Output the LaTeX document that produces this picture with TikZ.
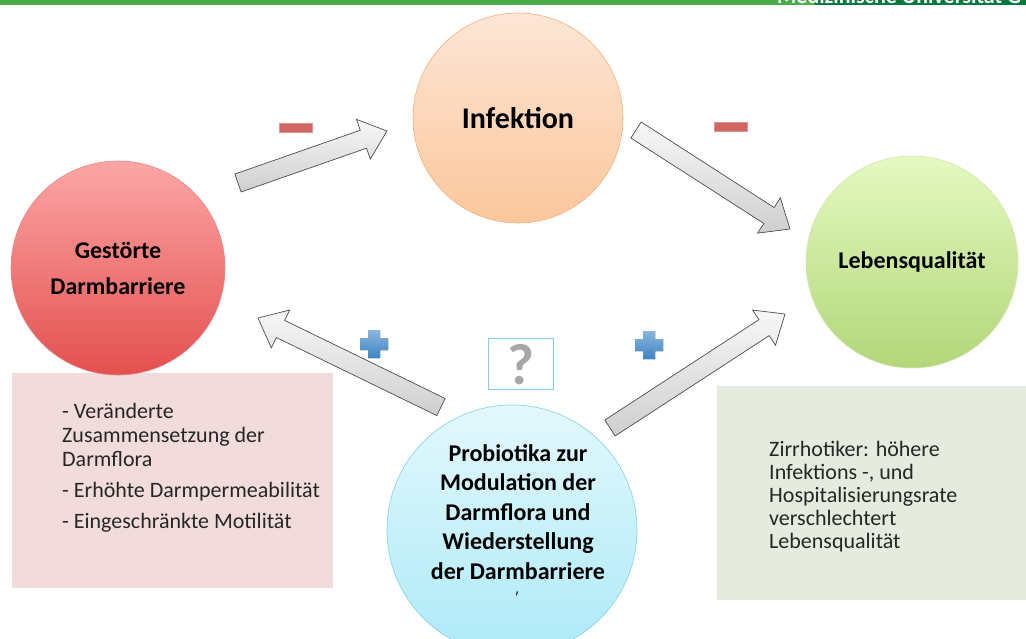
\documentclass[tikz,border=0pt]{standalone}
\usepackage{fontspec}
\setmainfont{Carlito}
\usetikzlibrary{calc}
\definecolor{barlight}{HTML}{47AD48}
\definecolor{bardark}{HTML}{067A3C}
\definecolor{minusred}{HTML}{D06763}
\definecolor{plusblue}{HTML}{3D85C6}
\definecolor{qframe}{HTML}{7FD0E0}
\definecolor{boxpink}{HTML}{F2DCDB}
\definecolor{boxgreen}{HTML}{E6EBDF}
\definecolor{inftop}{HTML}{FDE6D6}
\definecolor{infbot}{HTML}{FBC79C}
\definecolor{infrim}{HTML}{F6AF7C}
\definecolor{gesttop}{HTML}{FCA6A6}
\definecolor{gestbot}{HTML}{E3504E}
\definecolor{lebtop}{HTML}{E4F9C1}
\definecolor{lebbot}{HTML}{B2D779}
\definecolor{probtop}{HTML}{E3F8FC}
\definecolor{probbot}{HTML}{ADEAF7}
\definecolor{probrim}{HTML}{7CD3E6}

% block arrow from tail coordinate #1 to tip coordinate #2
\newcommand\blockarrow[2]{%
  \coordinate (neck) at ($(#2)!25pt!(#1)$);
  \draw[arrowbody] ($(#1)!9.5pt!90:(#2)$) -- ($(neck)!9.5pt!90:(#2)$)
    -- ($(neck)!21pt!90:(#2)$) -- (#2) -- ($(neck)!21pt!-90:(#2)$)
    -- ($(neck)!9.5pt!-90:(#2)$) -- ($(#1)!9.5pt!-90:(#2)$) -- cycle;}
% plus sign centred at coordinate #1
\newcommand\plussign[1]{%
  \fill[plusbody] ($(#1)+(-6,-14)$) -- ++(12,0) -- ++(0,8) -- ++(8,0) -- ++(0,12)
    -- ++(-8,0) -- ++(0,8) -- ++(-12,0) -- ++(0,-8) -- ++(-8,0) -- ++(0,-12)
    -- ++(8,0) -- cycle;}

\begin{document}
\begin{tikzpicture}[x=1pt, y=-1pt,
  bubble/.style={circle, inner sep=0, align=center, line width=0.6pt,
    font=\bfseries\fontsize{24}{36}\selectfont},
  arrowbody/.style={draw=black!70, line width=0.7pt, top color=gray!6, bottom color=gray!38},
  plusbody/.style={top color=plusblue!60, bottom color=plusblue},
  minusbar/.style={fill=minusred, draw=minusred!70, line width=0.4pt},
  infobox/.style={anchor=base west, align=left, inner sep=0, text=black!85, font=\fontsize{22}{24}\selectfont}]
  \useasboundingbox (0,0) rectangle (1026,638);

  % header bar
  \begin{scope}
    \clip (0,0) rectangle (1026,5);
    \fill[barlight] (0,0) rectangle (1026,5);
    \fill[bardark] (815,0) rectangle (1026,5);
    \node[anchor=base west, inner sep=0, text=white, font=\bfseries\fontsize{22}{26}\selectfont]
      (uni) at (777,3.5) {Medizinische Universität G};
  \end{scope}

  % text boxes (anchored at the last baseline)
  \fill[boxpink] (12,373) rectangle (333,588);
  \fill[boxgreen] (717,386) rectangle (1026,600);
  \node[infobox] (causes) at (62,528) {- Veränderte\\Zusammensetzung der\\Darmflora\\[7pt]
    - Erhöhte Darmpermeabilität\\[7pt]- Eingeschränkte Motilität};
  \node[infobox, font=\fontsize{22}{23}\selectfont] (facts) at (769,548)
    {Zirrhotiker: höhere\\Infektions -, und\\Hospitalisierungsrate\\verschlechtert\\Lebensqualität};

  % bubbles
  \node[bubble, minimum size=210, top color=inftop, bottom color=infbot, draw=infrim,
    font=\bfseries\fontsize{30}{34}\selectfont] (inf) at (518,118) {Infektion};
  \node[bubble, minimum size=214, top color=gesttop, bottom color=gestbot, draw=gestbot!70!white]
    (gest) at (118,268) {Gestörte\\Darmbarriere};
  \node[bubble, minimum size=212, top color=lebtop, bottom color=lebbot, draw=lebbot!60!white]
    (leb) at (912,262) {Lebensqualität};
  \node[bubble, minimum size=250, top color=probtop, bottom color=probbot, draw=probrim] (prob) at (512,530) {};
  \node[align=center, inner sep=0, font=\bfseries\fontsize{24}{29.5}\selectfont] (probtext) at (518,512)
    {Probiotika zur\\Modulation der\\Darmflora und\\Wiederstellung\\der Darmbarriere};
  \node[inner sep=0, font=\fontsize{14}{14}\selectfont] (tick) at (517,597) {ʹ};

  % arrows
  \coordinate (a1) at (238,183);  \coordinate (b1) at (387,131);
  \coordinate (a2) at (636,130);  \coordinate (b2) at (790,229);
  \coordinate (a3) at (441,407);  \coordinate (b3) at (258,318);
  \coordinate (a4) at (610,428);  \coordinate (b4) at (785,314);
  \blockarrow{a1}{b1}
  \blockarrow{a2}{b2}
  \blockarrow{a3}{b3}
  \blockarrow{a4}{b4}

  % signs
  \draw[minusbar] (279,123) rectangle (312,132);
  \draw[minusbar] (714,122) rectangle (747,131);
  \coordinate (p1) at (374,344);
  \coordinate (p2) at (649,345);
  \plussign{p1}
  \plussign{p2}
  \node[draw=qframe, line width=0.6pt, minimum width=65, minimum height=51, inner sep=0] (quest) at (520.5,363.5) {};
  \node[inner sep=0, text=gray!70, font=\bfseries\fontsize{58}{58}\selectfont] (qmark) at (520.5,365) {?};
\end{tikzpicture}
\end{document}
